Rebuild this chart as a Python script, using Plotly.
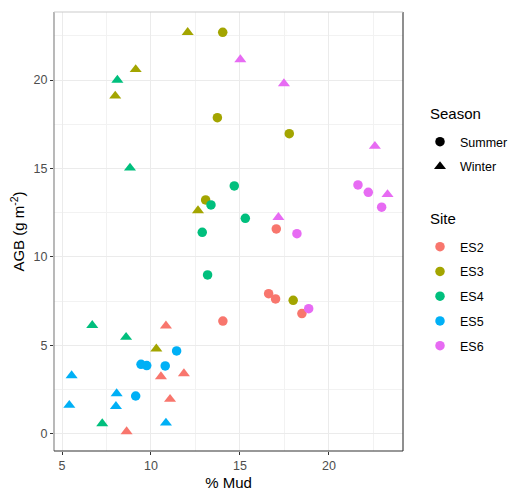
import plotly.graph_objects as go

# Sites, seasons and colours
sites = ["ES2", "ES3", "ES4", "ES5", "ES6"]
seasons = ["Summer", "Winter"]
site_colors = ["#F8766D", "#A3A500", "#00BF7D", "#00B0F6", "#E76BF3"]

# % mud and above-ground biomass per site and season
mud_summer = {
    "ES2": [17.04, 16.61, 17.00, 18.48, 14.04],
    "ES3": [14.03, 13.73, 17.77, 13.07, 17.99],
    "ES4": [14.68, 13.37, 15.30, 12.88, 13.18],
    "ES5": [11.44, 9.44, 9.76, 10.80, 9.14],
    "ES6": [21.63, 22.21, 22.96, 18.20, 18.86],
}
agb_summer = {
    "ES2": [11.58, 7.92, 7.62, 6.79, 6.37],
    "ES3": [22.70, 17.87, 16.97, 13.22, 7.54],
    "ES4": [14.01, 12.94, 12.18, 11.39, 8.98],
    "ES5": [4.68, 3.92, 3.85, 3.83, 2.13],
    "ES6": [14.07, 13.65, 12.81, 11.31, 7.07],
}
mud_winter = {
    "ES2": [10.84, 10.56, 11.85, 11.07, 8.63],
    "ES3": [12.06, 9.14, 7.99, 12.64, 10.30],
    "ES4": [8.11, 8.82, 6.70, 8.60, 7.26],
    "ES5": [5.54, 8.07, 5.41, 8.03, 10.84],
    "ES6": [15.02, 17.47, 22.58, 23.29, 17.16],
}
agb_winter = {
    "ES2": [6.10, 3.23, 3.40, 1.95, 0.12],
    "ES3": [22.70, 20.60, 19.10, 12.62, 4.80],
    "ES4": [20.00, 15.03, 6.13, 5.46, 0.57],
    "ES5": [3.29, 2.27, 1.61, 1.55, 0.61],
    "ES6": [21.16, 19.80, 16.26, 13.53, 12.24],
}

x_ticks = [5, 10, 15, 20]
y_ticks = [0, 5, 10, 15, 20]

FONT = "Liberation Sans, Arial, sans-serif"
CIRCLE_SIZE = 9.5
TRI_SIZE = 10.5

fig = go.Figure()

for site, col in zip(sites, site_colors):
    fig.add_trace(go.Scatter(
        x=mud_summer[site], y=agb_summer[site], mode="markers",
        marker=dict(symbol="circle", size=CIRCLE_SIZE, color=col, line=dict(width=0)),
        showlegend=False, hoverinfo="x+y",
    ))
    fig.add_trace(go.Scatter(
        x=mud_winter[site], y=agb_winter[site], mode="markers",
        marker=dict(symbol="triangle-up", size=TRI_SIZE, color=col, line=dict(width=0)),
        showlegend=False, hoverinfo="x+y",
    ))

# Legend keys: season (shape) and site (colour); one group per key for even spacing
for season, sym, sz in zip(seasons, ["circle", "triangle-up"], [CIRCLE_SIZE, TRI_SIZE]):
    fig.add_trace(go.Scatter(
        x=[None], y=[None], mode="markers", name=season,
        marker=dict(symbol=sym, size=sz, color="black"),
        legend="legend", legendgroup=season,
    ))
for site, col in zip(sites, site_colors):
    fig.add_trace(go.Scatter(
        x=[None], y=[None], mode="markers", name=site,
        marker=dict(symbol="circle", size=CIRCLE_SIZE, color=col),
        legend="legend2", legendgroup=site,
    ))

axis_common = dict(
    showgrid=True, gridcolor="#EBEBEB", gridwidth=1.1,
    zeroline=False, showline=False, automargin=False,
    ticks="outside", ticklen=3, tickwidth=1.1, tickcolor="#333333",
    tickfont=dict(family=FONT, size=12.5, color="#4D4D4D"),
    minor=dict(showgrid=True, gridcolor="#F2F2F2", gridwidth=0.6, dtick=2.5, tick0=0),
)

legend_common = dict(
    font=dict(family=FONT, size=12.5, color="black"),
    xref="container", yref="container", xanchor="left", yanchor="top",
    bgcolor="rgba(0,0,0,0)", itemwidth=30, tracegroupgap=5.5,
    traceorder="grouped",
)

fig.update_layout(
    width=511, height=495,
    margin=dict(l=54, r=108, t=12, b=44),
    paper_bgcolor="white", plot_bgcolor="white",
    font=dict(family=FONT, color="black"),
    xaxis=dict(
        range=[4.55, 24.16], tickvals=x_ticks,
        title=dict(text="% Mud", font=dict(family=FONT, size=15, color="black"), standoff=5),
        **axis_common,
    ),
    yaxis=dict(
        range=[-0.98, 23.85], tickvals=y_ticks,
        title=dict(text="AGB (g m<sup>-2</sup>)", font=dict(family=FONT, size=15, color="black"), standoff=5),
        **axis_common,
    ),
    legend=dict(x=420 / 511, y=1 - 127 / 495, **legend_common),
    legend2=dict(x=420 / 511, y=1 - 232 / 495, **legend_common),
)

# Legend titles
for text, ypx in [("Season", 113), ("Site", 218)]:
    fig.add_annotation(
        text=text, xref="paper", yref="paper",
        x=(428 - 54) / 349, y=(451 - ypx) / 439,
        xanchor="left", yanchor="middle", showarrow=False,
        font=dict(family=FONT, size=15, color="black"),
    )

# Panel border
border = [
    (0, 0, 0, 1, "#7F7F7F"),   # left
    (0, 0, 1, 0, "#333333"),   # bottom
    (1, 0, 1, 1, "#333333"),   # right
    (0, 1, 1, 1, "#CCCCCC"),   # top
]
for x0, y0, x1, y1, c in border:
    fig.add_shape(type="line", xref="paper", yref="paper",
                  x0=x0, y0=y0, x1=x1, y1=y1,
                  line=dict(color=c, width=1.1), layer="above")

fig.write_html("out.html")
